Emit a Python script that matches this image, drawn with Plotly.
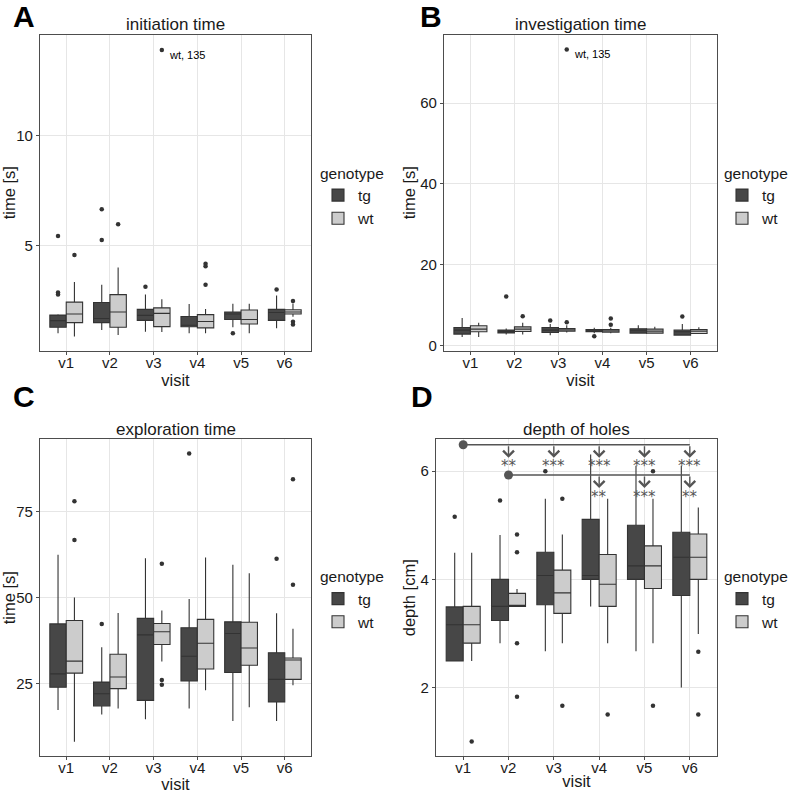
import plotly.graph_objects as go

visits = ["v1", "v2", "v3", "v4", "v5", "v6"]
genotypes = ["tg", "wt"]

# ---------- A: initiation time ----------
init_tg_lower = [1.04, 1.19, 1.11, 1.04, 1.31, 1.26]
init_tg_q1 = [1.31, 1.52, 1.62, 1.33, 1.66, 1.62]
init_tg_median = [1.61, 1.71, 1.85, 1.40, 1.91, 1.98]
init_tg_q3 = [1.86, 2.43, 2.12, 1.80, 2.00, 2.12]
init_tg_upper = [1.90, 3.24, 2.79, 2.36, 2.38, 2.75]
init_tg_out_visit = ["v1", "v1", "v1", "v2", "v2", "v3", "v5", "v6"]
init_tg_out_value = [5.44, 2.88, 2.79, 6.65, 5.26, 3.14, 1.04, 3.02]

init_wt_lower = [0.89, 0.96, 1.10, 1.04, 1.04, 1.79]
init_wt_q1 = [1.52, 1.31, 1.34, 1.28, 1.46, 1.91]
init_wt_median = [1.91, 2.00, 1.94, 1.57, 1.66, 2.00]
init_wt_q3 = [2.45, 2.79, 2.19, 1.88, 2.09, 2.10]
init_wt_upper = [3.36, 4.02, 2.58, 2.14, 2.38, 2.39]
init_wt_out_visit = ["v1", "v2", "v3", "v4", "v4", "v4", "v6", "v6", "v6"]
init_wt_out_value = [4.58, 5.98, 13.87, 4.19, 4.07, 3.24, 2.50, 1.56, 1.43]

# ---------- B: investigation time ----------
inv_tg_lower = [2.1, 2.7, 2.5, 3.0, 2.9, 2.4]
inv_tg_q1 = [2.8, 3.1, 3.2, 3.38, 3.05, 2.55]
inv_tg_median = [3.78, 3.46, 3.78, 3.62, 3.62, 3.38]
inv_tg_q3 = [4.44, 3.8, 4.44, 3.95, 4.1, 3.78]
inv_tg_upper = [6.8, 4.2, 5.3, 4.4, 5.0, 5.3]
inv_tg_out_visit = ["v2", "v3", "v4", "v6"]
inv_tg_out_value = [12.1, 6.2, 2.3, 7.16]

inv_wt_lower = [2.1, 2.7, 3.2, 3.0, 2.9, 2.9]
inv_wt_q1 = [3.38, 3.46, 3.54, 3.3, 3.05, 2.96]
inv_wt_median = [4.03, 4.03, 3.87, 3.62, 3.54, 3.54]
inv_wt_q3 = [4.86, 4.6, 4.2, 3.95, 4.03, 3.95]
inv_wt_upper = [5.6, 5.6, 5.0, 4.4, 4.6, 4.5]
inv_wt_out_visit = ["v2", "v3", "v3", "v4", "v4"]
inv_wt_out_value = [7.2, 5.76, 73.3, 6.67, 5.1]

# ---------- C: exploration time ----------
exp_tg_lower = [17.4, 16.1, 14.7, 17.8, 14.2, 14.2]
exp_tg_q1 = [24.0, 18.6, 20.2, 25.8, 28.3, 19.7]
exp_tg_median = [27.9, 22.1, 39.2, 33.0, 39.6, 26.3]
exp_tg_q3 = [42.4, 25.5, 44.0, 41.3, 43.0, 34.0]
exp_tg_upper = [62.5, 35.6, 61.5, 49.6, 59.6, 45.5]
exp_tg_out_visit = ["v2", "v4", "v6"]
exp_tg_out_value = [42.4, 91.9, 61.3]

exp_wt_lower = [8.2, 17.8, 31.5, 23.1, 18.2, 24.6]
exp_wt_q1 = [28.1, 23.6, 36.4, 29.3, 30.4, 26.3]
exp_wt_median = [31.6, 27.0, 40.1, 36.8, 35.4, 31.9]
exp_wt_q3 = [43.4, 33.6, 42.5, 43.7, 42.9, 32.5]
exp_wt_upper = [50.1, 45.6, 46.3, 61.7, 57.1, 41.0]
exp_wt_out_visit = ["v1", "v1", "v3", "v3", "v3", "v6", "v6"]
exp_wt_out_value = [78.0, 66.8, 59.9, 26.1, 24.7, 84.4, 53.8]

# ---------- D: depth of holes ----------
dep_tg_lower = [2.49, 2.82, 2.67, 3.5, 2.67, 2.0]
dep_tg_q1 = [2.49, 3.24, 3.53, 4.0, 4.0, 3.7]
dep_tg_median = [3.16, 3.5, 4.07, 4.07, 4.25, 4.41]
dep_tg_q3 = [3.49, 4.0, 4.5, 5.11, 5.0, 4.87]
dep_tg_upper = [4.49, 4.82, 5.49, 6.31, 6.1, 6.1]
dep_tg_out_visit = ["v1", "v2", "v3"]
dep_tg_out_value = [5.16, 5.46, 6.0]

dep_wt_lower = [2.49, 3.5, 2.82, 2.82, 2.82, 2.99]
dep_wt_q1 = [2.82, 3.5, 3.37, 3.5, 3.83, 4.0]
dep_wt_median = [3.16, 3.5, 3.75, 3.91, 4.25, 4.41]
dep_wt_q3 = [3.5, 3.74, 4.17, 4.46, 4.62, 4.84]
dep_wt_upper = [4.49, 3.82, 4.83, 5.49, 5.49, 5.33]
dep_wt_out_visit = ["v1", "v2", "v2", "v2", "v2", "v3", "v3", "v4", "v5", "v5", "v6", "v6"]
dep_wt_out_value = [1.0, 4.83, 4.5, 2.82, 1.83, 5.49, 1.66, 1.5, 6.0, 1.66, 2.66, 1.5]

# significance brackets in D
sig1_ref = "v1"
sig1_level = 6.49
sig1_targets = ["v2", "v3", "v4", "v5", "v6"]
sig1_labels = ["**", "***", "***", "***", "***"]
sig2_ref = "v2"
sig2_level = 5.93
sig2_targets = ["v4", "v5", "v6"]
sig2_labels = ["**", "***", "**"]

# labelled extreme point
label_visit = "v3"
label_text = "wt, 135"

# ---------- styling ----------
W = H = 793
FONT = "Liberation Sans, Arial, Helvetica, sans-serif"
fill = {"tg": "#474747", "wt": "#CCCCCC"}
LINE = "#333333"
DODGE = 0.1875
BOXW = 0.375
pos = {v: i + 1 for i, v in enumerate(visits)}
off = {"tg": -DODGE, "wt": DODGE}


def px_x(a, b):
    return [a / W, b / W]


def px_y(top, bottom):
    return [1 - bottom / H, 1 - top / H]


panels = [
    dict(key="", title="initiation time", letter="A", ytitle="time [s]",
         xd=px_x(40, 311), yd=px_y(35, 352), yr=[0.25, 14.55], dtick=5,
         data={"tg": (init_tg_lower, init_tg_q1, init_tg_median, init_tg_q3, init_tg_upper,
                      init_tg_out_visit, init_tg_out_value),
               "wt": (init_wt_lower, init_wt_q1, init_wt_median, init_wt_q3, init_wt_upper,
                      init_wt_out_visit, init_wt_out_value)},
         legend=(318, 159), letterpos=(11, 17)),
    dict(key="2", title="investigation time", letter="B", ytitle="time [s]",
         xd=px_x(444, 717), yd=px_y(35, 352), yr=[-1.3, 76.9], dtick=20,
         data={"tg": (inv_tg_lower, inv_tg_q1, inv_tg_median, inv_tg_q3, inv_tg_upper,
                      inv_tg_out_visit, inv_tg_out_value),
               "wt": (inv_wt_lower, inv_wt_q1, inv_wt_median, inv_wt_q3, inv_wt_upper,
                      inv_wt_out_visit, inv_wt_out_value)},
         legend=(722, 159), letterpos=(418, 17)),
    dict(key="3", title="exploration time", letter="C", ytitle="time [s]",
         xd=px_x(40, 311), yd=px_y(441, 759), yr=[4.0, 96.0], dtick=25,
         data={"tg": (exp_tg_lower, exp_tg_q1, exp_tg_median, exp_tg_q3, exp_tg_upper,
                      exp_tg_out_visit, exp_tg_out_value),
               "wt": (exp_wt_lower, exp_wt_q1, exp_wt_median, exp_wt_q3, exp_wt_upper,
                      exp_wt_out_visit, exp_wt_out_value)},
         legend=(318, 564), letterpos=(11, 398)),
    dict(key="4", title="depth of holes", letter="D", ytitle="depth [cm]",
         xd=px_x(436, 717), yd=px_y(441, 759), yr=[0.73, 6.59], dtick=2,
         data={"tg": (dep_tg_lower, dep_tg_q1, dep_tg_median, dep_tg_q3, dep_tg_upper,
                      dep_tg_out_visit, dep_tg_out_value),
               "wt": (dep_wt_lower, dep_wt_q1, dep_wt_median, dep_wt_q3, dep_wt_upper,
                      dep_wt_out_visit, dep_wt_out_value)},
         legend=(722, 564), letterpos=(409, 398)),
]

fig = go.Figure()
layout = dict(width=W, height=H, margin=dict(l=0, r=0, t=0, b=0),
              paper_bgcolor="white", plot_bgcolor="white",
              font=dict(family=FONT, size=14, color="#1a1a1a"),
              showlegend=True, annotations=[], boxmode="overlay")

for p in panels:
    k = p["key"]
    xa, ya = "x" + k, "y" + k
    leg = "legend" + k
    for g in genotypes:
        lo, q1, med, q3, up, ov, oval = p["data"][g]
        fig.add_trace(go.Box(
            x=[pos[v] + off[g] for v in visits], q1=q1, median=med, q3=q3,
            lowerfence=lo, upperfence=up, width=BOXW, whiskerwidth=0,
            boxpoints=False, fillcolor=fill[g], line=dict(color=LINE, width=1.1),
            name=g, xaxis=xa, yaxis=ya, legend=leg, showlegend=True,
            hoverinfo="skip"))
        fig.add_trace(go.Scatter(
            x=[pos[v] + off[g] for v in ov], y=oval, mode="markers",
            marker=dict(color="#333333", size=4.5), xaxis=xa, yaxis=ya,
            showlegend=False, hoverinfo="skip"))

    axis_common = dict(showline=True, linecolor="#4d4d4d", linewidth=1.2, mirror=True,
                       showgrid=True, gridcolor="#E6E6E6", gridwidth=1, zeroline=False,
                       ticks="outside", ticklen=3, tickcolor="#4d4d4d",
                       tickfont=dict(size=15, color="#1a1a1a"))
    layout["xaxis" + k] = dict(domain=p["xd"], anchor=ya, range=[0.4, 6.6],
                               tickmode="array", tickvals=[pos[v] for v in visits],
                               ticktext=visits, ticklabelstandoff=-5,
                               title=dict(text="visit", font=dict(size=16.5), standoff=0),
                               **axis_common)
    layout["yaxis" + k] = dict(domain=p["yd"], anchor=xa, range=p["yr"],
                               tick0=0, dtick=p["dtick"],
                               title=dict(text=p["ytitle"], font=dict(size=16.5), standoff=0),
                               **axis_common)
    lx, ly = p["legend"]
    layout[leg] = dict(x=lx / W, y=1 - ly / H, xanchor="left", yanchor="top",
                       title=dict(text="genotype", font=dict(size=15.5)),
                       font=dict(size=15.5), bgcolor="rgba(0,0,0,0)",
                       itemwidth=30, tracegroupgap=0)
    # panel title
    layout["annotations"].append(dict(
        text=p["title"], xref="paper", yref="paper",
        x=(p["xd"][0] + p["xd"][1]) / 2, y=p["yd"][1] + 10 / H,
        xanchor="center", yanchor="middle", showarrow=False, font=dict(size=17)))
    # panel letter
    lxp, lyp = p["letterpos"]
    layout["annotations"].append(dict(
        text="<b>" + p["letter"] + "</b>", xref="paper", yref="paper",
        x=lxp / W, y=1 - lyp / H, xanchor="left", yanchor="middle",
        showarrow=False, font=dict(size=30, color="black")))

# labelled extreme point in A and B
for k, val in [("", init_wt_out_value[init_wt_out_visit.index(label_visit)]),
               ("2", max(inv_wt_out_value))]:
    layout["annotations"].append(dict(
        text=label_text, x=pos[label_visit] + off["wt"], y=val,
        xref="x" + k, yref="y" + k, xanchor="left", yanchor="middle",
        xshift=5, yshift=-5, showarrow=False, font=dict(size=11, color="black")))

# significance brackets in D
SIGC = "#555555"
for ref, lvl, targets, labels in [(sig1_ref, sig1_level, sig1_targets, sig1_labels),
                                  (sig2_ref, sig2_level, sig2_targets, sig2_labels)]:
    fig.add_trace(go.Scatter(
        x=[pos[ref], pos[targets[-1]]], y=[lvl, lvl], mode="lines",
        line=dict(color=SIGC, width=1.3), xaxis="x4", yaxis="y4",
        showlegend=False, hoverinfo="skip"))
    fig.add_trace(go.Scatter(
        x=[pos[ref]], y=[lvl], mode="markers", marker=dict(color=SIGC, size=9),
        xaxis="x4", yaxis="y4", showlegend=False, hoverinfo="skip"))
    for t, lab in zip(targets, labels):
        layout["annotations"].append(dict(
            text="", x=pos[t], y=lvl - 0.24, ax=pos[t], ay=lvl,
            xref="x4", yref="y4", axref="x4", ayref="y4",
            showarrow=True, arrowhead=4, arrowsize=1.5, arrowwidth=1.4,
            arrowcolor=SIGC, standoff=0, startstandoff=0))
        layout["annotations"].append(dict(
            text=lab, x=pos[t], y=lvl - 0.40, xref="x4", yref="y4",
            xanchor="center", yanchor="middle", showarrow=False,
            font=dict(size=15, color=SIGC, family="DejaVu Sans")))

fig.update_layout(**layout)
fig.write_html("out.html", config={"displayModeBar": False},
               post_script="document.body.style.margin='0';")
